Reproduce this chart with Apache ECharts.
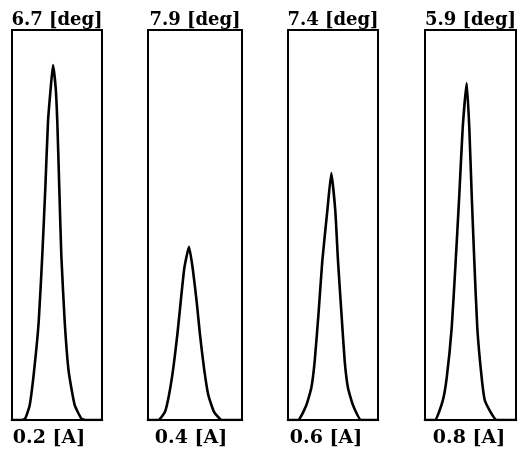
<!DOCTYPE html>
<html><head><meta charset="utf-8">
<script src="https://cdn.jsdelivr.net/npm/echarts@6/dist/echarts.min.js"></script>
<style>html,body{margin:0;padding:0;background:#fff}#c{width:518px;height:453px}</style>
</head><body><div id="c"></div>
<script>
// Angle labels (top) and current labels (bottom)
const angleLabels = ['6.7 [deg]', '7.9 [deg]', '7.4 [deg]', '5.9 [deg]'];
const currentLabels = ['0.2 [A]', '0.4 [A]', '0.6 [A]', '0.8 [A]'];

// Profile of each panel: position (arb. units) and intensity (arb. units, 0-100)
const pos1 = [0, 10, 13.3, 17.7, 22, 26.7, 30.3, 33.3, 36, 38.7, 41, 43.7, 45.3, 47.3, 49.3, 52.7, 56.7, 62.7, 69.3, 74, 90];
const int1 = [0, 0, 0.4, 3.8, 12.4, 25.2, 42.3, 59.4, 76.5, 85.1, 91.0, 85.1, 76.5, 59.4, 42.3, 25.2, 12.4, 3.8, 0.4, 0, 0];

const pos2 = [0, 10.3, 17, 21, 25.3, 29.3, 32.7, 36.3, 41, 44.7, 48.7, 52, 56, 60.3, 66, 73.7, 94];
const int2 = [0, 0, 2.1, 6.4, 13.3, 21.8, 30.3, 38.9, 44.4, 38.9, 30.3, 21.8, 13.3, 6.4, 2.1, 0, 0];

const pos3 = [0, 10, 18.3, 23.3, 26.7, 30.7, 34.3, 39.3, 43.3, 47.3, 50, 53.3, 56.7, 60, 65, 73.3, 90];
const int3 = [0, 0, 3.8, 8.2, 15.1, 27.9, 40.8, 53.6, 63.3, 53.6, 40.8, 27.9, 15.1, 8.2, 3.8, 0, 0];

const pos4 = [0, 10, 17.7, 21.7, 26.7, 30.7, 34.3, 37.7, 41.7, 44.3, 46.7, 49.3, 52.3, 56.7, 60, 71.7, 91];
const int4 = [0, 0, 4.9, 10.8, 23.6, 40.8, 57.7, 74.9, 86.4, 74.9, 57.7, 40.8, 23.6, 10.8, 4.9, 0, 0];

const positions = [pos1, pos2, pos3, pos4];
const intensities = [int1, int2, int3, int4];
const xMax = [90, 94, 90, 91];

const panelLeft = [12, 148, 288, 425];
const panelTop = 30, panelHeight = 390;

const grids = [], xAxes = [], yAxes = [], series = [], graphics = [];
for (let i = 0; i < 4; i++) {
  grids.push({left: panelLeft[i], top: panelTop, width: xMax[i], height: panelHeight,
    show: true, borderColor: '#000', borderWidth: 2, backgroundColor: 'transparent'});
  xAxes.push({type: 'value', gridIndex: i, min: 0, max: xMax[i], show: false});
  yAxes.push({type: 'value', gridIndex: i, min: 0, max: 100, show: false});
  series.push({type: 'line', xAxisIndex: i, yAxisIndex: i, showSymbol: false, smooth: 0.15,
    lineStyle: {color: '#000', width: 2.6, join: 'round', cap: 'round'}, animation: false,
    data: positions[i].map((p, k) => [p, intensities[i][k]])});
  const cx = panelLeft[i] + xMax[i] / 2;
  graphics.push({type: 'text', x: cx, y: 20, style: {text: angleLabels[i], font: 'bold 18px "DejaVu Serif"',
    fill: '#000', textAlign: 'center', textVerticalAlign: 'middle'}});
}
const bottomCenters = [49, 191, 326, 469];
for (let i = 0; i < 4; i++) {
  graphics.push({type: 'text', x: bottomCenters[i], y: 438, style: {text: currentLabels[i], font: 'bold 19px "DejaVu Serif"',
    fill: '#000', textAlign: 'center', textVerticalAlign: 'middle'}});
}

const chart = echarts.init(document.getElementById('c'), null, {renderer: 'canvas'});
chart.setOption({animation: false, backgroundColor: '#fff', grid: grids, xAxis: xAxes, yAxis: yAxes, series, graphic: graphics});
</script></body></html>
